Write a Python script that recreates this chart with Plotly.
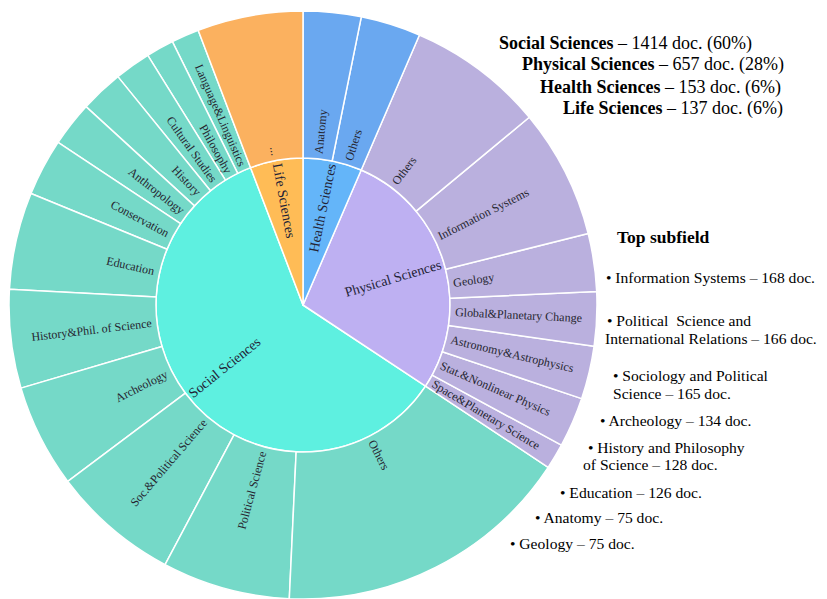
import math
import plotly.graph_objects as go

OFF = 8  # page body margin offset in the screenshot
W, H = 827 - OFF, 599 - OFF

# ---- data ----
fields = ["Social Sciences", "Physical Sciences", "Health Sciences", "Life Sciences"]
field_docs = [1414, 657, 153, 137]

social_subs = ["Language&Linguistics", "Philosophy", "Cultural Studies", "History", "Anthropology",
               "Conservation", "Education", "History&Phil. of Science", "Archeology",
               "Soc.&Political Science", "Political Science", "Others"]
social_vals = [36, 36, 47, 56, 58, 74, 126, 128, 134, 165, 166, 388]

physical_subs = ["Space&Planetary Science", "Stat.&Nonlinear Physics", "Astronomy&Astrophysics",
                 "Global&Planetary Change", "Geology", "Information Systems", "Others"]
physical_vals = [33, 65, 69, 70, 75, 168, 177]

health_subs = ["Others", "Anatomy"]
health_vals = [78, 75]

life_subs = ["..."]
life_vals = [137]

top_names = ["Information Systems", "Political\u00a0 Science and|International Relations",
             "Sociology and Political|Science", "Archeology", "History and Philosophy|of Science",
             "Education", "Anatomy", "Geology"]
top_docs = [168, 166, 165, 134, 128, 126, 75, 75]

inner_colors = ["rgb(94,240,224)", "rgb(190,176,242)", "rgb(100,181,249)", "rgb(255,188,86)"]
outer_colors = ["rgb(117,217,200)", "rgb(186,176,222)", "rgb(106,168,240)", "rgb(251,177,95)"]

# ---- geometry of the sunburst (screen pixels) ----
CX, CY, R = 303, 305, 294
R_IN = R / 2

def fx(x):  # screen px -> paper
    return (x - OFF) / W

def fy(y):
    return 1 - (y - OFF) / H

# ---- build sunburst ----
ids, labels, parents, values, colors = [], [], [], [], []
children = [(social_subs, social_vals), (physical_subs, physical_vals),
            (health_subs, health_vals), (life_subs, life_vals)]
for i, f in enumerate(fields):
    ids.append(f); labels.append(f); parents.append(""); values.append(field_docs[i])
    colors.append(inner_colors[i])
for i, f in enumerate(fields):
    subs, vals = children[i]
    for s, v in zip(subs, vals):
        ids.append(f + "/" + s); labels.append(s); parents.append(f); values.append(v)
        colors.append(outer_colors[i])

total = sum(field_docs)
rot = 90 + 360 * field_docs[3] / total  # Social Sciences starts just after Life Sciences

fig = go.Figure(go.Sunburst(
    ids=ids, labels=labels, parents=parents, values=values,
    branchvalues="total", sort=False, rotation=rot,
    marker=dict(colors=colors, line=dict(color="white", width=1.5)),
    leaf=dict(opacity=1),
    textinfo="none",
    hoverinfo="skip",
    domain=dict(x=[max(0, fx(CX - R)), fx(CX + R)], y=[max(0, fy(CY + R)), fy(CY - R)]),
))

# ---- radial labels ----
TW = {'a': 444, 'b': 500, 'c': 444, 'd': 500, 'e': 444, 'f': 333, 'g': 500, 'h': 500, 'i': 278,
      'j': 278, 'k': 500, 'l': 278, 'm': 778, 'n': 500, 'o': 500, 'p': 500, 'q': 500, 'r': 333,
      's': 389, 't': 278, 'u': 500, 'v': 500, 'w': 722, 'x': 500, 'y': 500, 'z': 444, ' ': 250,
      '&': 778, '.': 250, '-': 333, 'A': 722, 'C': 667, 'E': 611, 'G': 722, 'H': 722, 'I': 333,
      'L': 611, 'O': 722, 'P': 556, 'S': 556, 'T': 611}

def text_w(t, size):
    return sum(TW.get(c, 560) for c in t) / 1000 * size

anns = []

def radial_label(text, theta, size, inner):
    w = text_w(text, size)
    if inner:
        rc = R_IN - 3 - w / 2
    else:
        rc = R_IN + 5 + w / 2
    th = math.radians(theta)
    x = CX + rc * math.cos(th)
    y = CY - rc * math.sin(th)
    if math.cos(th) >= -1e-9:
        ang = -theta
    else:
        ang = -(theta + 180)
    ang = (ang + 180) % 360 - 180
    anns.append(dict(x=fx(x), y=fy(y), xref="paper", yref="paper", xanchor="center",
                     yanchor="middle", showarrow=False, text=text, textangle=ang,
                     font=dict(family="Liberation Serif", size=size,
                               color="#232336" if inner else "#262630")))

a0 = rot
for i, f in enumerate(fields):
    span = 360 * field_docs[i] / total
    radial_label(f, a0 + span / 2, 14, True)
    subs, vals = children[i]
    b0 = a0
    for s, v in zip(subs, vals):
        sp = 360 * v / total
        radial_label(s, (b0 + sp / 2) % 360, 12, False)
        b0 += sp
    a0 += span

# ---- top-right summary ----
sum_pos = [(497, 44), (520, 65), (538, 87), (561, 108)]
for (x, y), f, d in zip(sum_pos, fields, field_docs):
    pct = round(100 * d / total)
    anns.append(dict(x=fx(x), y=fy(y), xref="paper", yref="paper", xanchor="left", yanchor="middle",
                     showarrow=False,
                     text=f"<b>{f}</b> – {d} doc. ({pct}%)",
                     font=dict(family="Liberation Serif", size=18, color="black")))

anns.append(dict(x=fx(615), y=fy(237), xref="paper", yref="paper", xanchor="left", yanchor="middle",
                 showarrow=False, text="<b>Top subfield</b>",
                 font=dict(family="Liberation Serif", size=17.5, color="black")))

top_pos = [[(604, 277)], [(605, 320), (603, 338)], [(611, 375), (611, 393)], [(598, 420)],
           [(586, 447), (581, 465)], [(558, 492)], [(533, 517)], [(508, 543)]]
for name, d, pos in zip(top_names, top_docs, top_pos):
    parts = name.split("|")
    if len(parts) == 1:
        lines = [f"• {parts[0]} – {d} doc."]
    else:
        lines = [f"• {parts[0]}", f"{parts[1]} – {d} doc."]
    for (x, y), t in zip(pos, lines):
        anns.append(dict(x=fx(x), y=fy(y), xref="paper", yref="paper", xanchor="left",
                         yanchor="middle", showarrow=False, text=t,
                         font=dict(family="Liberation Serif", size=15.6, color="black")))

fig.update_layout(width=W, height=H, margin=dict(l=0, r=0, t=0, b=0),
                  paper_bgcolor="white", plot_bgcolor="white", annotations=anns,
                  showlegend=False)

fig.write_html("out.html")
